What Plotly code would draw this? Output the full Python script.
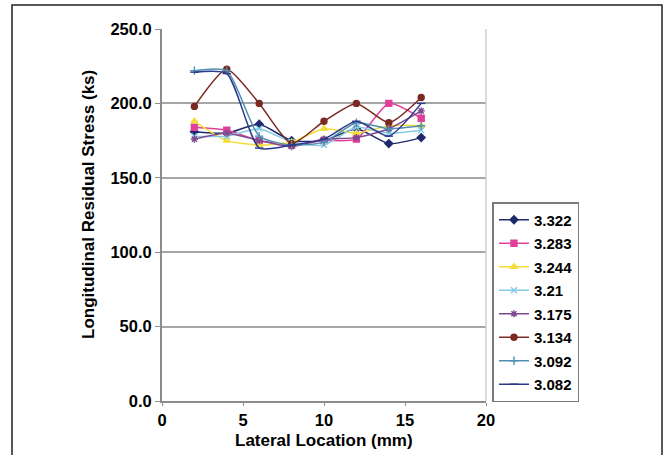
import plotly.graph_objects as go

# Lateral measurement positions (mm)
lateral_mm = [2, 4, 6, 8, 10, 12, 14, 16]

# Longitudinal residual stress (ks) for each depth series
series_names = ["3.322", "3.283", "3.244", "3.21", "3.175", "3.134", "3.092", "3.082"]
s_3322 = [181, 180, 186, 175, 175, 183, 173, 177]
s_3283 = [184, 182, 175, 172, 175, 176, 200, 190]
s_3244 = [188, 175, 172, 174, 183, 180, 185, 185]
s_3210 = [178, 178, 183, 174, 172, 184, 180, 182]
s_3175 = [176, 180, 175, 171, 176, 177, 183, 195]
s_3134 = [198, 223, 200, 173, 188, 200, 187, 204]
s_3092 = [222, 222, 178, 172, 174, 187, 183, 185]
s_3082 = [221, 220, 170, 172, 176, 188, 178, 200]

series_values = [s_3322, s_3283, s_3244, s_3210, s_3175, s_3134, s_3092, s_3082]

y_ticks = [0, 50, 100, 150, 200, 250]
x_ticks = [0, 5, 10, 15, 20]

colors = ["#1f2a6e", "#e0409a", "#f2de3a", "#86cbe6", "#7d4a8e", "#7a2a22", "#4f8fb0", "#2b3a8c"]
symbols = ["diamond", "square", "triangle-up", "x-thin-open", "asterisk-open", "circle", "cross-thin-open", "line-ew-open"]

FONT = "Liberation Sans, Arial, sans-serif"

fig = go.Figure()
for name, vals, col, sym in zip(series_names, series_values, colors, symbols):
    fig.add_trace(go.Scatter(
        x=lateral_mm, y=vals, name=name, legendgroup=name,
        mode="lines+markers",
        line=dict(color=col, width=1.5, shape="spline", smoothing=0.6),
        marker=dict(symbol=sym, size=6, color=col, line=dict(color=col, width=1.4)),
    ))

fig.update_layout(
    width=668, height=455,
    margin=dict(l=162, r=182, t=29, b=54),
    paper_bgcolor="white", plot_bgcolor="white",
    font=dict(family=FONT, size=15, color="black"),
    showlegend=True,
    legend=dict(
        x=1.02, y=(401 - 202) / 372, xanchor="left", yanchor="top",
        bgcolor="white", bordercolor="#7a7a7a", borderwidth=1.5,
        font=dict(family=FONT, size=15, color="black", weight="bold"),
        tracegroupgap=1, itemwidth=30,
    ),
    xaxis=dict(
        range=[0, 20], tickvals=x_ticks, ticktext=[str(v) for v in x_ticks],
        showgrid=False, zeroline=False,
        showline=True, linecolor="#8c8c8c", linewidth=2,
        ticks="outside", ticklen=3, tickcolor="#8c8c8c",
        tickfont=dict(family=FONT, size=16.5, color="black", weight="bold"),
        mirror=False,
    ),
    yaxis=dict(
        range=[0, 250], tickvals=y_ticks, ticktext=[f"{v:.1f}" for v in y_ticks],
        showgrid=True, gridcolor="#a6a6a6", gridwidth=2, zeroline=False,
        showline=True, linecolor="#8c8c8c", linewidth=2,
        ticks="outside", ticklen=5, tickcolor="#8c8c8c",
        tickfont=dict(family=FONT, size=16.5, color="black", weight="bold"),
    ),
)

# right edge of the plot area
fig.add_shape(type="line", xref="paper", yref="paper", x0=1, x1=1, y0=0, y1=1,
              line=dict(color="#cfcfcf", width=1.5))

# outer frame around the whole chart
fig.add_shape(type="rect", xref="paper", yref="paper",
              x0=(12 - 162) / 324, x1=(662 - 162) / 324,
              y0=(401 - 470) / 372, y1=(401 - 5) / 372,
              line=dict(color="#222222", width=1.5), layer="below")

fig.add_annotation(text="<b>Lateral Location (mm)</b>", xref="paper", yref="paper",
                   x=0.5, y=(401 - 441) / 372, xanchor="center", yanchor="middle",
                   showarrow=False, font=dict(family=FONT, size=17, color="black"))
fig.add_annotation(text="<b>Longitudinal Residual Stress (ks)</b>", xref="paper", yref="paper",
                   x=(88 - 162) / 324, y=(401 - 205) / 372, xanchor="center", yanchor="middle",
                   textangle=-90, showarrow=False,
                   font=dict(family=FONT, size=17, color="black"))

fig.write_html("out.html")
